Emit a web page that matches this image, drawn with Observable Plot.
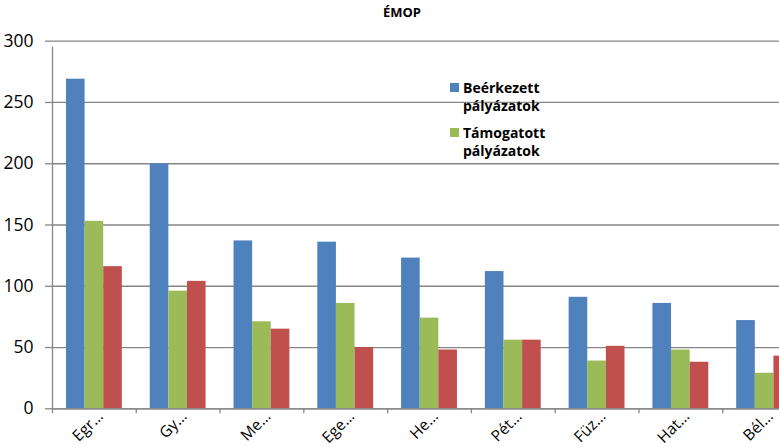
<!DOCTYPE html>
<html>
<head>
<meta charset="utf-8">
<script src="https://cdn.jsdelivr.net/npm/d3@7"></script>
<script src="https://cdn.jsdelivr.net/npm/@observablehq/plot@0.6"></script>
<style>
  html, body { margin: 0; padding: 0; background: #fff; }
  #wrap { position: relative; width: 779px; height: 447px; overflow: hidden; font-family: "Open Sans", sans-serif; }
  #title { position: absolute; left: 402px; top: 5.8px; transform: translateX(-50%); font-weight: 700; font-size: 13px; line-height: 13px; color: #000; white-space: nowrap; }
  .leg { position: absolute; left: 450px; font-weight: 700; font-size: 14px; line-height: 18.5px; color: #000; }
  .leg .sw { position: absolute; left: 0; width: 9px; height: 9px; }
  .leg .tx { position: absolute; left: 13px; white-space: nowrap; }
</style>
</head>
<body>
<div id="wrap">
  <div id="chart"></div>
  <div id="title"></div>
  <div id="legend"></div>
</div>
<script>
// ---- data ----
const title = "ÉMOP";
const categories = ["Egr…", "Gy…", "Me…", "Ege…", "He…", "Pét…", "Füz…", "Hat…", "Bél…"];
const seriesNames = ["Beérkezett\npályázatok", "Támogatott\npályázatok", "Series 3"];
const beerkezett = [269, 200, 137, 136, 123, 112, 91, 86, 72];
const tamogatott = [153, 96, 71, 86, 74, 56, 39, 48, 29];
const series3 = [116, 104, 65, 50, 48, 56, 51, 38, 43];
const yTicks = [0, 50, 100, 150, 200, 250, 300];
const colors = ["#4F81BD", "#9BBB59", "#C0504D"];

// ---- layout ----
const W = 779, H = 447;
const left = 52;
const bw = 83.78;                      // category band width
const right = left + categories.length * bw;
const step = bw / 4.5;                 // bar width
const outer = step * 0.75;
const gridColor = "#868686";

const seriesValues = [beerkezett, tamogatott, series3];
const barMarks = seriesValues.map((vals, i) =>
  Plot.barY(categories.map((c, j) => ({cat: c, v: vals[j]})), {
    x: "cat", y: "v", fill: colors[i],
    insetLeft: outer + i * step,
    insetRight: bw - outer - (i + 1) * step
  })
);

const chart = Plot.plot({
  width: W, height: H,
  marginLeft: left, marginRight: 0, marginTop: 40.7, marginBottom: 38.7,
  style: {fontFamily: "'Open Sans', sans-serif", fontSize: "17.5px", color: "#000", background: "#fff"},
  x: {type: "band", domain: categories, range: [left, right], padding: 0, round: false},
  y: {domain: [0, 300]},
  marks: [
    Plot.gridY(yTicks, {stroke: gridColor, strokeOpacity: 1, strokeWidth: 1.3}),
    ...barMarks,
    Plot.ruleY([0], {stroke: gridColor, strokeWidth: 1.3}),
    Plot.ruleX([categories[0]], {x: d => d, dx: -bw / 2, y1: 0, y2: 300, insetBottom: -6, stroke: gridColor, strokeWidth: 1.3}),
    Plot.axisY(yTicks, {tickSize: 7, tickPadding: 12, stroke: gridColor, strokeWidth: 1.3, fontSize: 17.5, label: null}),
    Plot.axisX({tickSize: 5, dx: -bw / 2, tickFormat: () => "", stroke: gridColor, strokeWidth: 1.3, label: null}),
    Plot.axisX({tickSize: 0, tickPadding: 5, tickRotate: -45, fontSize: 15.5, label: null, dx: 6})
  ]
});
document.getElementById("chart").appendChild(chart);

document.getElementById("title").textContent = title;
const legend = document.getElementById("legend");
[0, 1].forEach(i => {
  const d = document.createElement("div");
  d.className = "leg";
  d.style.top = (78.6 + i * 45) + "px";
  const sw = document.createElement("span");
  sw.className = "sw";
  sw.style.background = colors[i];
  sw.style.top = "4.1px";
  const tx = document.createElement("span");
  tx.className = "tx";
  tx.innerHTML = seriesNames[i].split("\n").join("<br>");
  d.appendChild(sw); d.appendChild(tx);
  legend.appendChild(d);
});
</script>
</body>
</html>
